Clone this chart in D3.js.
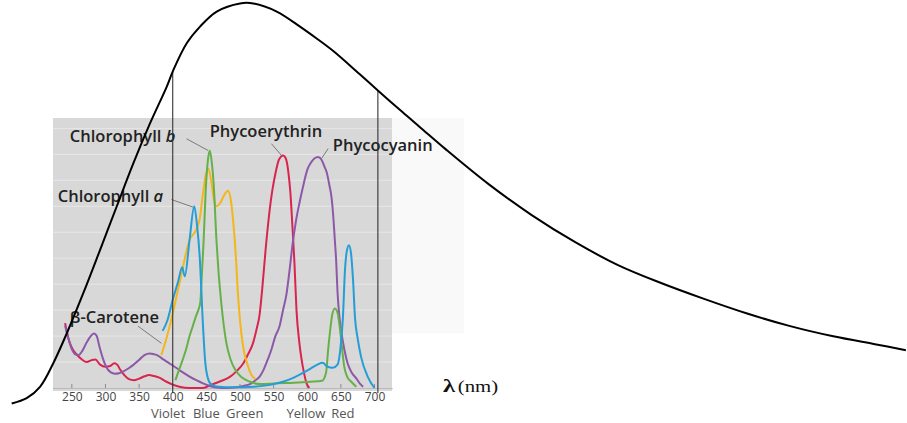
<!DOCTYPE html>
<html>
<head>
<meta charset="utf-8">
<script src="https://cdn.jsdelivr.net/npm/d3@7"></script>
<style>
  html, body { margin: 0; padding: 0; background: #fff; }
  svg { display: block; }
</style>
</head>
<body>
<svg id="chart" width="907" height="423"></svg>
<script>
// ---------------- DATA ----------------
// wavelength tick labels (nm)
const tickLabels = [250, 300, 350, 400, 450, 500, 550, 600, 650, 700];
// colour names below the axis and their approximate centre (nm)
const colourNames = ["Violet", "Blue", "Green", "Yellow", "Red"];
const colourCentres = [393, 450, 507, 598, 653];
// visible-light boundaries marked with vertical lines (nm)
const visibleBounds = [400, 705];

// solar spectrum (relative intensity)
const sunNm  = [160.6, 182.9, 202.7, 222.4, 242.4, 267, 291.9, 316.7, 341.4, 366.2, 391, 400.9, 420.8, 440.6, 465.4, 500, 519.8, 554.6, 589.2, 613, 638.7, 677.3, 705.8, 741.5, 767.6, 805.6, 869.6, 933.7, 997.8, 1062, 1126, 1190, 1254, 1318, 1382, 1446, 1490];
const sunVal = [1.6, 2.9, 5.7, 11.5, 18.8, 28.7, 39.3, 50, 60.6, 70.4, 79.4, 83.5, 90.1, 94.2, 97.9, 99.9, 99.9, 97.9, 94.2, 91.4, 88.2, 82.6, 78.4, 73.2, 69.5, 64.1, 55.5, 47.9, 41.3, 35.6, 31.2, 27.3, 23.7, 20.6, 18.1, 16.1, 14.7];

// absorption spectra: [wavelength nm, relative absorbance]
const chlorophyllA = [[385,22],[392,26],[400,34],[408,41],[414,46.5],[418,43],[425,57],[432,70],[436,63],[440,51],[445,24],[448,11],[452,4],[458,1.2],[468,0.5],[490,0.3],[520,0.5],[545,1.2],[565,2.5],[580,4],[595,6],[605,7.5],[615,9],[623,9.7],[630,8.2],[638,7.8],[645,9],[650,17],[653,27],[656,45],[659,53],[662,55],[665,52],[668,42],[671,27],[675,19],[680,12],[690,4.3],[700,0]];
const chlorophyllB = [[404,3],[408,6],[415,11],[420,15],[425,20],[430,24],[435,28],[438,30],[441,33],[443,42],[446,57],[449,76],[452,87],[455,91.5],[458,87],[461,78],[465,57],[468,45],[471,36],[475,26],[480,17],[486,11],[493,7],[503,4],[515,2.4],[530,1.5],[555,1.8],[580,2],[605,2.4],[622,2.8],[628,6],[631,14.6],[634,22],[637,28],[641,30.6],[645,29],[648,24],[651,17],[655,8.2],[660,4],[665,2.5],[673,0.5]];
const betaCarotene = [[383,12.7],[390,18.5],[400,28.7],[413,44],[425,57],[435,61],[440,65],[445,75],[449,82],[453,84.5],[457,80],[461,73],[465,70],[470,71],[476,74],[482,76],[486,73],[490,64],[494,50],[497,36],[502,21],[506,14],[510,10],[517,5],[523,3.5]];
const phycoerythrin = [[240,25],[245,19],[250,15.5],[257,13],[265,11],[272,10],[280,10.8],[285,11],[292,9],[300,8.2],[307,8.5],[313,9.5],[318,8.8],[322,7],[328,5],[335,3.4],[342,3],[350,3.6],[358,4.5],[365,5],[372,4.6],[380,4],[390,2.5],[400,1.3],[410,0.5],[425,0],[445,0],[457,1.2],[470,2.5],[485,4.3],[495,6.5],[505,9.5],[512,13],[519,17],[525,23],[529,28],[533,38],[538,53],[543,66],[548,76],[553,83],[558,88],[564,89.6],[568,88.5],[572,83],[575,75],[578,62],[581,48],[584,30],[588,18],[591,12],[595,6],[599,1.8],[603,0]];
const phycocyanin = [[240,24],[245,19],[250,15],[255,13],[260,12.7],[266,14.5],[272,17.5],[278,20],[283,21],[287,20],[291,16],[296,11.5],[301,8.2],[308,6],[314,5.5],[320,5.7],[326,6.3],[334,7.5],[341,8.8],[350,10.8],[358,12.7],[366,13.3],[372,13],[378,12.5],[386,11],[395,9.5],[405,7.8],[415,6],[425,4.4],[435,3],[445,1.8],[455,0.8],[465,0.2],[480,0],[495,0.3],[505,0.8],[515,1.5],[522,2.8],[529,4.3],[535,7],[541,10.8],[547,15],[552,19.5],[559,24],[564,30],[569,36],[574,46],[578,55],[583,64],[589,72],[595,79],[600,84],[606,87],[611,88.5],[616,89],[621,88],[626,85],[629,83],[633,78],[636,73.6],[639,65],[641,57],[643,49],[645,37],[648,27],[651,21],[655,15],[660,9.5],[666,6],[673,3.7],[678,1.8],[683,0.5]];

const pigmentNames  = ["β-Carotene", "Chlorophyll b", "Chlorophyll a", "Phycoerythrin", "Phycocyanin"];
const pigmentColors = ["#f4b619", "#66b04a", "#259dd6", "#d8254f", "#8c58a8"];

// label anchors (data coords) and leader lines [from, to] in data coords
const labelPos = [[247, 25.1], [247, 94.6], [229, 71.5], [455, 96.7], [638, 91.2]];
const leaderFrom = [[348.5, 23.8], [420.5, 96], [398, 72.6], [546.7, 94.1], [631, 92.2]];
const leaderTo   = [[383.3, 17.2], [452.5, 91.5], [430, 69.7], [561.6, 89.6], [621, 88.3]];

// ---------------- DRAW ----------------
const svg = d3.select("#chart");
const x = d3.scaleLinear().domain([222, 726]).range([53, 392]);   // shared wavelength scale
const y = d3.scaleLinear().domain([0, 104]).range([388, 118]);     // absorbance
const ySun = d3.scaleLinear().domain([0, 100]).range([410, 3]);    // solar intensity

// grey panel
svg.append("rect")
  .attr("x", x(222)).attr("y", y(104))
  .attr("width", x(726) - x(222)).attr("height", 391 - y(104))
  .attr("fill", "#d8d8d8");
// faint halftone spill to the right
svg.append("rect")
  .attr("x", x(726)).attr("y", y(104))
  .attr("width", 72).attr("height", y(21) - y(104))
  .attr("fill", "#f9f9f9");
// faint white grid
svg.append("g").selectAll("line")
  .data(d3.range(10, 104, 10))
  .join("line")
  .attr("x1", x(222)).attr("x2", x(726))
  .attr("y1", d => y(d)).attr("y2", d => y(d))
  .attr("stroke", "#fff").attr("stroke-opacity", 0.4).attr("stroke-width", 1);

// axis
const axis = d3.axisBottom(x).tickValues(tickLabels).tickSize(0).tickPadding(4);
const gAxis = svg.append("g").attr("transform", `translate(0,${y(0)})`).call(axis);
gAxis.select(".domain").attr("stroke", "#9a9a9a").attr("stroke-dasharray", "1,1");
gAxis.selectAll("text")
  .attr("font-family", "'Open Sans', sans-serif").attr("font-size", 12).attr("fill", "#444");
svg.append("g").selectAll("line")
  .data(d3.range(250, 701, 50))
  .join("line")
  .attr("x1", d => x(d)).attr("x2", d => x(d))
  .attr("y1", y(0)).attr("y2", y(0) - 4)
  .attr("stroke", "#8a8a8a").attr("stroke-width", 1);

// colour names
svg.append("g").selectAll("text")
  .data(colourNames)
  .join("text")
  .attr("x", (d, i) => x(colourCentres[i]))
  .attr("y", 417.5)
  .attr("text-anchor", "middle")
  .attr("font-family", "'Open Sans', sans-serif")
  .attr("font-size", 13)
  .attr("fill", "#555")
  .text(d => d);

// pigment curves
const line = d3.line().x(d => x(d[0])).y(d => y(d[1])).curve(d3.curveMonotoneX);
const series = [betaCarotene, chlorophyllB, chlorophyllA, phycoerythrin, phycocyanin];
const drawOrder = [3, 4, 0, 1, 2];
drawOrder.forEach(i => {
  svg.append("path")
    .datum(series[i])
    .attr("d", line)
    .attr("fill", "none")
    .attr("stroke", pigmentColors[i])
    .attr("stroke-width", 2)
    .attr("stroke-linejoin", "round");
});

// leader lines
svg.append("g").selectAll("line")
  .data(leaderFrom)
  .join("line")
  .attr("x1", d => x(d[0])).attr("y1", d => y(d[1]))
  .attr("x2", (d, i) => x(leaderTo[i][0])).attr("y2", (d, i) => y(leaderTo[i][1]))
  .attr("stroke", "#7a7a7a").attr("stroke-width", 1);

// labels
const lbl = svg.append("g")
  .attr("font-family", "'Open Sans', sans-serif")
  .attr("font-weight", 600)
  .attr("font-size", 16.5)
  .attr("fill", "#222");
pigmentNames.forEach((name, i) => {
  const t = lbl.append("text").attr("x", x(labelPos[i][0])).attr("y", y(labelPos[i][1]));
  const m = name.match(/^(Chlorophyll )([ab])$/);
  if (m) {
    t.append("tspan").text(m[1]);
    t.append("tspan").attr("font-style", "italic").text(m[2]);
  } else {
    t.text(name);
  }
});

// visible range lines (from axis up to the solar curve)
const sunAt = nm => {
  const i = d3.bisectLeft(sunNm, nm);
  if (sunNm[i] === nm) return sunVal[i];
  const t = (nm - sunNm[i - 1]) / (sunNm[i] - sunNm[i - 1]);
  return sunVal[i - 1] + t * (sunVal[i] - sunVal[i - 1]);
};
svg.append("g").selectAll("line")
  .data(visibleBounds)
  .join("line")
  .attr("x1", d => x(d)).attr("x2", d => x(d))
  .attr("y1", 393).attr("y2", d => ySun(sunAt(d)))
  .attr("stroke", "#333").attr("stroke-width", 1.1);

// solar curve
const sunLine = d3.line().x((d, i) => x(sunNm[i])).y((d, i) => ySun(sunVal[i])).curve(d3.curveCatmullRom.alpha(0.5));
svg.append("path")
  .datum(sunNm)
  .attr("d", sunLine)
  .attr("fill", "none")
  .attr("stroke", "#000")
  .attr("stroke-width", 2);

// axis title (horizontally stretched serif, as in the reference)
const title = svg.append("text")
  .attr("transform", "translate(443,392) scale(1.3,1)")
  .attr("font-family", "'Liberation Serif', 'Times New Roman', serif")
  .attr("fill", "#111");
title.append("tspan").attr("font-size", 19).attr("font-weight", 700).text("λ");
title.append("tspan").attr("font-size", 16).attr("dx", 2).text("(nm)");
</script>
</body>
</html>
